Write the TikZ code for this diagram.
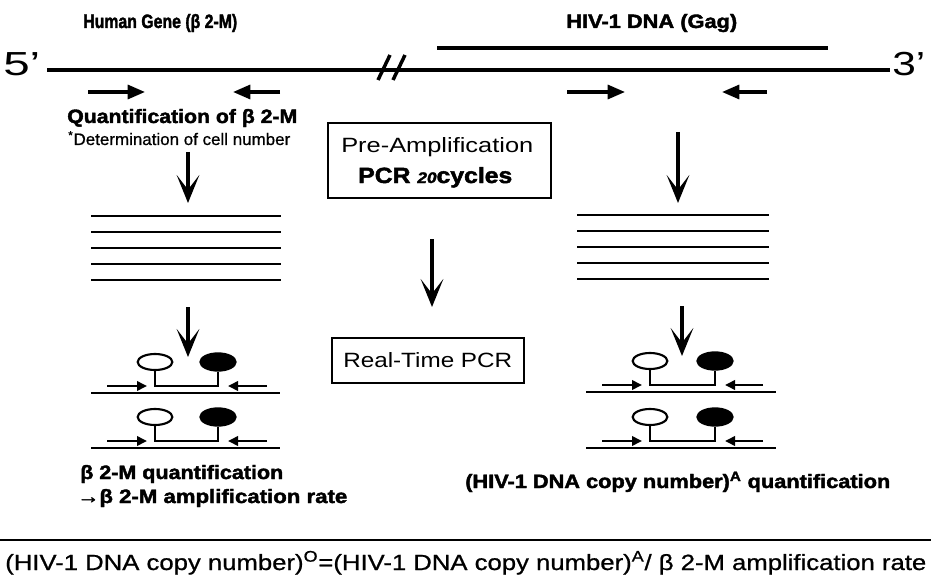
\documentclass[tikz,border=0pt]{standalone}
\usepackage{fontspec}
\setmainfont{Liberation Sans}
\newfontfamily\heavy{Liberation Sans Bold}[FakeBold=2]
\newfontfamily\medium{Liberation Sans}[FakeBold=0.8]
\usepackage{graphicx}
\usetikzlibrary{arrows.meta,shapes.geometric}

% one drawing unit = one pixel of the 931 x 581 layout
\newlength\pxu
\setlength\pxu{0.75pt}
% set #2 stretched horizontally to a width of #1 units
\newcommand\fitw[2]{\resizebox{#1\pxu}{\height}{#2}}
\newcommand\fsz[1]{\fontsize{#1}{#1}\selectfont}

\tikzset{
  lbl/.style={inner sep=0pt, anchor=base west},
  strand/.style={line width=3pt},
  ampl/.style={line width=2.2pt},
  primer/.style={line width=2.4pt, -{Triangle[length=13pt,width=10.5pt]}},
  smallprimer/.style={line width=2pt, -{Triangle[length=7.5pt,width=7pt]}},
  downarrow/.style={line width=3.6pt, -{Stealth[length=21pt,width=17pt,inset=11pt]}},
  frame/.style={draw, line width=1.8pt, inner sep=0pt, anchor=north west},
  openprobe/.style={ellipse, draw, line width=1.6pt, fill=white,
    minimum width=26pt, minimum height=12pt, inner sep=0pt},
  fillprobe/.style={ellipse, draw, fill=black, line width=1pt,
    minimum width=27pt, minimum height=13.5pt, inner sep=0pt},
  probeline/.style={line width=1.6pt},
}

% a template strand with its two primers and the paired probes
% #1 id, #2 left end, #3 right end, #4 open-probe stem x, #5 filled-probe stem x, #6 strand y
\newcommand\probepair[6]{%
  \node[openprobe] (o#1) at (#4,#6-31) {};
  \node[fillprobe] (f#1) at (#5,#6-31) {};
  \coordinate (k#1) at (#4,#6-7);
  \coordinate (bl#1) at (#2,#6);
  \coordinate (br#1) at (#3,#6);
  \coordinate (pl#1) at (#2+16,#6-7);
  \coordinate (plt#1) at (#4-8,#6-7);
  \coordinate (pr#1) at (#3-13,#6-7);
  \coordinate (prt#1) at (#5+10,#6-7);
  \draw[ampl] (bl#1) -- (br#1);
  \draw[probeline] (o#1.south) -- (k#1) -- (f#1.south |- k#1) -- (f#1.south);
  \draw[smallprimer] (pl#1) -- (plt#1);
  \draw[smallprimer] (pr#1) -- (prt#1);
}

\begin{document}
\begin{tikzpicture}[x=0.75pt, y=-0.75pt]
\useasboundingbox (0,0) rectangle (931,581);

% ---- genomic DNA ----
\node[lbl] (hg) at (83,28) {\fsz{14.5}\heavy\fitw{154}{Human Gene (β 2-M)}};
\node[lbl] (hiv) at (566,28) {\fsz{14.5}\heavy\fitw{171}{HIV-1 DNA (Gag)}};
\node[lbl] (five) at (3,76) {\fsz{25}\fitw{37}{5’}};
\node[lbl] (three) at (892,76) {\fsz{25}\fitw{33}{3’}};

\coordinate (gl) at (47,70);
\coordinate (gr) at (890,70);
\draw[strand] (gl) -- (gr);
\coordinate (hl) at (437,48);
\coordinate (hr) at (828,48);
\draw[strand] (hl) -- (hr);

% break mark
\draw[line width=2.6pt] (378,80) -- (390,55);
\draw[line width=2.6pt] (393,80) -- (405,55);

% primers on the genome
\coordinate (a1) at (88,92);  \coordinate (a2) at (145,92);
\coordinate (b1) at (280,92); \coordinate (b2) at (233,92);
\coordinate (c1) at (567,92); \coordinate (c2) at (625,92);
\coordinate (d1) at (767,92); \coordinate (d2) at (722,92);
\draw[primer] (a1) -- (a2);
\draw[primer] (b1) -- (b2);
\draw[primer] (c1) -- (c2);
\draw[primer] (d1) -- (d2);

\node[lbl] (qb) at (67,123) {\fsz{14.5}\heavy\fitw{230}{Quantification of β 2-M}};
\node[lbl] (dc) at (68,145) {\fsz{12.5}\medium\fitw{222}{\textsuperscript{*}Determination of cell number}};

% ---- pre-amplification ----
\node[frame, minimum width=167.25pt, minimum height=56.25pt] (pre) at (327,122) {};
\node[lbl] (pre1) at (341,152) {\fsz{15.5}\fitw{192}{Pre-Amplification}};
\node[lbl] (pre2) at (358,183) {\fsz{16.5}\heavy\fitw{154}{PCR {\fsz{11.5}\itshape 20}cycles}};

\coordinate (la1) at (188,152); \coordinate (la2) at (188,203);
\coordinate (ra1) at (678,132); \coordinate (ra2) at (678,203);
\draw[downarrow] (la1) -- (la2);
\draw[downarrow] (ra1) -- (ra2);

% amplified products
\foreach \yy in {216,232,248,264,280} {
  \draw[ampl] (91,\yy) -- (281,\yy);
}
\foreach \yy in {215,231,247,263,279} {
  \draw[ampl] (577,\yy) -- (769,\yy);
}

\coordinate (ca1) at (432,239); \coordinate (ca2) at (432,307);
\draw[downarrow] (ca1) -- (ca2);

\coordinate (lb1) at (188,307); \coordinate (lb2) at (188,357);
\coordinate (rb1) at (682,306); \coordinate (rb2) at (682,356);

% ---- real-time PCR ----
\node[frame, minimum width=144pt, minimum height=33.75pt] (rt) at (331,337) {};
\node[lbl] (rtt) at (343,367) {\fsz{15.5}\fitw{169}{Real-Time PCR}};

\probepair{1}{91}{280}{155}{218}{393}
\probepair{2}{91}{280}{155}{218}{448}
\probepair{3}{586}{776}{650}{715}{392}
\probepair{4}{586}{776}{650}{715}{448}

\draw[downarrow] (lb1) -- (lb2);
\draw[downarrow] (rb1) -- (rb2);

\node[lbl] (lq) at (80,479) {\fsz{14.5}\heavy\fitw{203}{β 2-M quantification}};
\node[lbl] (lr) at (77,503) {\fsz{14.5}\heavy\fitw{270}{→β 2-M amplification rate}};
\node[lbl] (rq) at (465,488) {\fsz{14.5}\heavy\fitw{425}{(HIV-1 DNA copy number)\textsuperscript{A} quantification}};

% ---- result ----
\coordinate (s1) at (0,540); \coordinate (s2) at (931,540);
\draw[line width=1.5pt] (s1) -- (s2);
\node[lbl] (res) at (5,570) {\fsz{16.5}\medium\fitw{921}{(HIV-1 DNA copy number)\textsuperscript{O}=(HIV-1 DNA copy number)\textsuperscript{A}/ β 2-M amplification rate}};
\end{tikzpicture}
\end{document}
